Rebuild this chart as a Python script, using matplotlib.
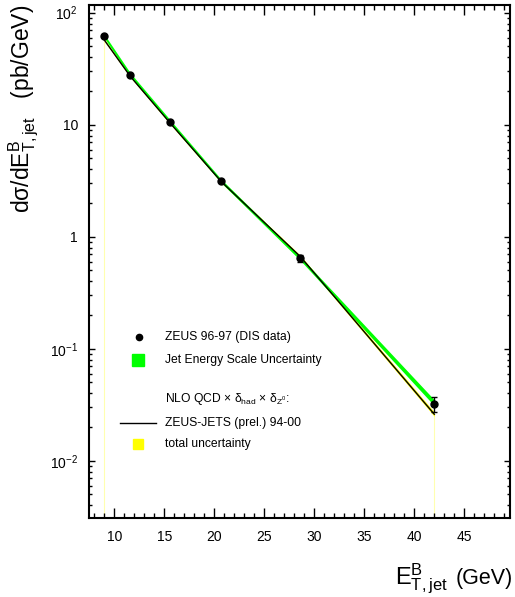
import numpy as np
import matplotlib
matplotlib.use("Agg")
import matplotlib.pyplot as plt
from matplotlib.ticker import FixedLocator, FixedFormatter, LogLocator, MultipleLocator, NullFormatter

plt.rcParams['font.family'] = ['Liberation Sans', 'DejaVu Sans']
plt.rcParams['mathtext.fontset'] = 'custom'
plt.rcParams['mathtext.rm'] = 'Liberation Sans'
plt.rcParams['mathtext.it'] = 'Liberation Sans:italic'
plt.rcParams['mathtext.bf'] = 'Liberation Sans:bold'
plt.rcParams['mathtext.default'] = 'regular'

# ZEUS 96-97 DIS inclusive jet cross section vs E_T,jet (Breit frame)
et = np.array([9.0, 11.6, 15.6, 20.7, 28.6, 42.0])
xsec = np.array([62.0, 27.8, 10.6, 3.14, 0.64, 0.032])
xsec_err = np.array([1.5, 0.7, 0.25, 0.08, 0.045, 0.0048])

# jet energy scale uncertainty band
jes_up = np.array([64.0, 29.0, 11.0, 3.25, 0.665, 0.035])
jes_dn = np.array([59.5, 26.8, 10.2, 3.02, 0.615, 0.031])

# NLO QCD (ZEUS-JETS 94-00 PDFs) with total uncertainty
nlo = np.array([57.0, 27.0, 10.3, 3.1, 0.665, 0.026])
nlo_up = np.array([58.5, 27.6, 10.55, 3.18, 0.683, 0.0272])
nlo_dn = np.array([55.5, 26.4, 10.05, 3.02, 0.647, 0.0249])

y_ticks = [1e-2, 1e-1, 1, 10, 1e2]
y_ticklabels = ['$10^{-2}$', '$10^{-1}$', '1', '10', '$10^{2}$']

fig = plt.figure(figsize=(5.15, 5.97), dpi=100)
ax = fig.add_axes([0.1728, 0.1328, 0.8175, 0.8588])
ax.set_yscale('log')
ax.set_xlim(7.47, 49.57)
ax.set_ylim(0.0031, 117)

# theory band and curve
ax.fill_between(et, nlo_dn, nlo_up, color='#ffff00', lw=0, zorder=2)
ax.vlines([et[0], et[-1]], 0.0031, [nlo[0], nlo[-1]], color='#ffffb0', lw=0.8, zorder=1)
ax.fill_between(et, jes_dn, jes_up, color='#00ff00', lw=0, zorder=3)
ax.plot(et, nlo, color='black', lw=1.0, zorder=4)

# data
ax.errorbar(et, xsec, yerr=xsec_err, fmt='o', color='black', ms=5,
            elinewidth=1.0, capsize=2.5, capthick=1.0, zorder=5)

# legend drawn by hand
fs = 8.7
ax.plot(0.119, 0.352, 'o', color='black', ms=4.5, transform=ax.transAxes)
ax.text(0.181, 0.352, 'ZEUS 96-97 (DIS data)', transform=ax.transAxes, fontsize=fs, va='center')
ax.plot(0.117, 0.308, 's', color='#00ff00', ms=9, transform=ax.transAxes)
ax.text(0.181, 0.308, 'Jet Energy Scale Uncertainty', transform=ax.transAxes, fontsize=fs, va='center')
ax.text(0.181, 0.231, r'NLO QCD $\times$ $\delta_{had}$ $\times$ $\delta_{Z^0}$:',
        transform=ax.transAxes, fontsize=fs, va='center')
ax.plot([0.074, 0.159], [0.185, 0.185], color='black', lw=1.0, transform=ax.transAxes)
ax.text(0.181, 0.185, 'ZEUS-JETS (prel.) 94-00', transform=ax.transAxes, fontsize=fs, va='center')
ax.plot(0.117, 0.144, 's', color='#ffff00', ms=7.5, transform=ax.transAxes)
ax.text(0.181, 0.144, 'total uncertainty', transform=ax.transAxes, fontsize=fs, va='center')

# axes styling
for s in ax.spines.values():
    s.set_linewidth(1.5)
ax.xaxis.set_major_locator(MultipleLocator(5))
ax.xaxis.set_minor_locator(MultipleLocator(1))
ax.yaxis.set_major_locator(FixedLocator(y_ticks))
ax.yaxis.set_major_formatter(FixedFormatter(y_ticklabels))
ax.yaxis.set_minor_locator(LogLocator(base=10, subs=np.arange(2, 10)))
ax.yaxis.set_minor_formatter(NullFormatter())
ax.tick_params(axis='both', which='both', direction='in', top=True, right=True, width=1.0)
ax.tick_params(axis='x', which='major', length=7, labelsize=10, pad=9)
ax.tick_params(axis='x', which='minor', length=3.5)
ax.tick_params(axis='y', which='major', length=4, labelsize=10, pad=8)
ax.tick_params(axis='y', which='minor', length=2.2)

# x title: large variable name, unit on the same baseline
fig.text(395 / 515, 1 - 584 / 597, r'$E^{B}_{T,jet}$', fontsize=17, ha='left', va='baseline')
fig.text(513 / 515, 1 - 584 / 597, '(GeV)', fontsize=15.5, ha='right', va='baseline')
ax.set_ylabel(r'd$\sigma$/d$E^{B}_{T,jet}$   (pb/GeV)', fontsize=16.5, loc='top', labelpad=6)

fig.savefig('out.png', dpi=100)
